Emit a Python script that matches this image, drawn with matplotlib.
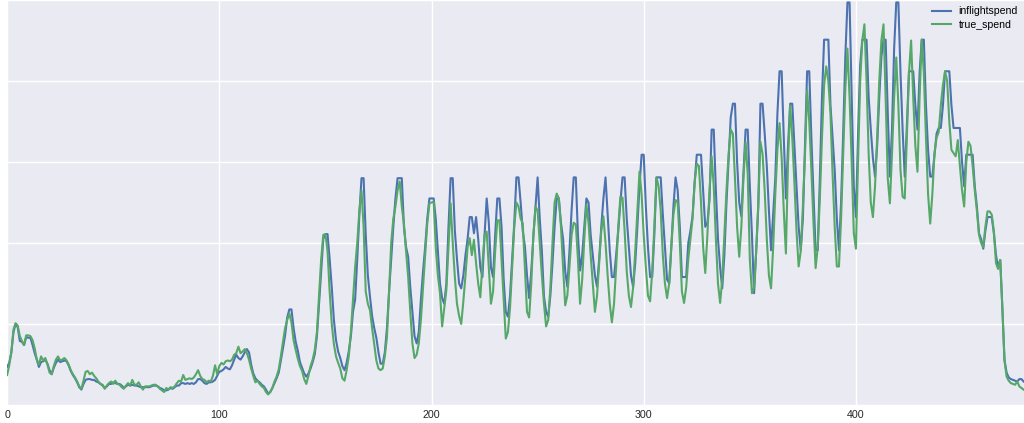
import matplotlib.pyplot as plt
import numpy as np

# values (one per step, 480 steps)
inflightspend = [
    4.7, 5.2, 6.5, 9.0, 10.0, 9.6, 7.9, 7.8, 7.4, 8.4,
    8.3, 8.3, 7.4, 6.4, 5.6, 4.7, 5.3, 5.4, 5.6, 5.1,
    4.3, 3.8, 4.6, 5.2, 5.6, 5.3, 5.4, 5.5, 5.4, 4.9,
    4.2, 3.7, 3.3, 2.8, 2.2, 1.9, 2.6, 3.1, 3.2, 3.2,
    3.1, 3.1, 2.9, 2.8, 2.6, 2.4, 2.1, 2.3, 2.6, 2.6,
    2.8, 2.7, 2.6, 2.6, 2.4, 2.1, 2.3, 2.5, 2.4, 2.5,
    2.4, 2.4, 2.3, 2.2, 2.2, 2.2, 2.2, 2.2, 2.3, 2.4,
    2.4, 2.3, 2.1, 2.0, 1.8, 1.8, 1.9, 2.1, 2.0, 2.2,
    2.4, 2.4, 2.7, 2.7, 2.6, 2.7, 2.6, 2.7, 2.6, 2.8,
    3.2, 3.2, 3.0, 2.7, 2.6, 2.8, 2.8, 2.9, 3.1, 3.6,
    4.1, 4.2, 4.4, 4.7, 4.5, 4.4, 4.9, 5.6, 6.2, 5.8,
    5.6, 6.0, 6.5, 6.9, 6.5, 5.0, 3.9, 3.3, 3.0, 2.8,
    2.5, 2.3, 1.9, 1.4, 1.6, 2.1, 2.7, 3.3, 4.0, 5.5,
    7.0, 8.6, 10.8, 11.8, 11.8, 9.5, 7.8, 6.7, 5.3, 4.6,
    3.9, 3.5, 3.9, 4.5, 5.3, 6.3, 8.5, 12.5, 16.5, 20.5,
    21.1, 21.1, 18.0, 14.5, 10.5, 8.0, 6.6, 5.8, 4.8, 4.3,
    5.2, 6.6, 8.5, 11.5, 13.0, 18.0, 23.5, 28.0, 28.0, 21.0,
    16.0, 13.4, 11.0, 9.5, 8.3, 6.5, 5.1, 5.1, 6.5, 9.5,
    14.0, 18.0, 22.0, 25.5, 28.0, 28.0, 28.0, 22.0, 19.5, 18.3,
    14.5, 11.5, 8.5, 7.6, 9.0, 13.0, 16.5, 19.5, 23.0, 25.5,
    25.5, 25.5, 23.0, 19.0, 15.0, 13.2, 12.5, 15.0, 22.0, 28.0,
    28.0, 21.5, 18.0, 15.0, 14.4, 16.0, 18.5, 20.5, 23.2, 23.2,
    21.2, 23.2, 20.5, 17.0, 15.8, 21.0, 25.5, 22.5, 17.0, 15.8,
    21.0, 25.5, 25.5, 22.0, 15.5, 11.5, 10.9, 13.5, 18.0, 22.5,
    28.1, 28.1, 25.0, 21.5, 19.6, 16.0, 13.2, 16.5, 20.8, 24.5,
    28.1, 23.0, 19.0, 13.4, 11.5, 10.9, 13.5, 17.5, 22.0, 25.5,
    25.5, 22.5, 20.5, 16.5, 14.6, 19.0, 24.0, 28.1, 28.1, 21.0,
    16.6, 18.5, 22.0, 25.5, 25.0, 21.0, 18.5, 16.0, 14.6, 18.0,
    22.0, 25.5, 28.1, 23.5, 19.0, 15.8, 15.8, 18.5, 21.5, 25.0,
    28.1, 28.1, 23.0, 19.5, 16.0, 14.6, 17.5, 22.0, 27.0, 30.9,
    30.9, 24.5, 19.5, 15.8, 15.8, 21.0, 28.1, 28.1, 28.1, 23.5,
    19.5, 15.5, 15.0, 19.5, 24.5, 28.1, 26.5, 22.0, 15.8, 15.8,
    15.8, 20.0, 21.5, 23.3, 27.5, 30.9, 30.9, 30.9, 26.5, 22.0,
    22.5, 25.3, 34.0, 34.0, 26.5, 20.5, 17.0, 14.4, 18.5, 25.0,
    30.3, 35.5, 37.2, 37.2, 30.0, 25.0, 23.3, 28.6, 34.0, 34.0,
    27.0, 21.0, 13.8, 19.0, 24.5, 37.2, 37.2, 33.5, 29.5, 24.0,
    19.1, 23.5, 28.0, 36.0, 41.2, 41.2, 33.0, 25.5, 32.0, 37.2,
    37.2, 32.0, 27.0, 22.0, 19.1, 23.0, 32.0, 41.2, 41.2, 33.0,
    26.0, 19.1, 19.1, 28.0, 38.0, 45.1, 45.1, 45.1, 37.0, 33.0,
    29.0, 23.0, 19.1, 25.0, 33.6, 43.0, 49.7, 49.7, 38.0, 27.0,
    23.2, 33.5, 42.0, 45.1, 45.1, 45.1, 38.0, 34.0, 30.5, 28.2,
    32.0, 38.0, 43.0, 45.1, 45.1, 36.0, 28.2, 34.0, 44.0, 49.7,
    49.7, 41.0, 34.0, 28.2, 34.5, 41.2, 41.2, 41.2, 37.0, 34.0,
    41.0, 45.1, 45.1, 37.0, 31.5, 28.2, 28.2, 30.9, 33.5, 34.2,
    34.2, 37.0, 41.2, 41.2, 41.2, 37.0, 34.2, 34.2, 34.2, 34.2,
    30.0, 27.0, 30.9, 30.9, 30.9, 30.9, 27.0, 24.5, 21.2, 20.5,
    19.3, 21.5, 23.2, 23.2, 23.2, 21.2, 18.5, 17.0, 17.9, 12.0,
    5.6, 4.0, 3.4, 3.2, 3.1, 3.0, 2.9, 3.2, 3.2, 2.9,
]

true_spend = [
    3.7, 4.9, 6.5, 9.3, 10.1, 9.8, 8.5, 7.9, 7.4, 8.6,
    8.6, 8.5, 8.0, 7.0, 5.6, 5.0, 6.0, 5.5, 5.8, 5.0,
    4.0, 3.8, 4.8, 5.6, 6.0, 5.5, 5.6, 5.8, 5.5, 5.0,
    4.3, 3.8, 3.4, 2.9, 2.3, 2.0, 3.0, 4.1, 4.2, 3.8,
    4.0, 3.6, 3.3, 2.9, 2.6, 2.5, 2.0, 2.4, 2.7, 2.9,
    2.6, 3.0, 2.6, 2.5, 2.2, 2.0, 2.4, 2.7, 2.4, 3.1,
    2.5, 2.5, 2.8, 2.3, 1.9, 2.3, 2.3, 2.3, 2.4, 2.5,
    2.5, 2.3, 2.0, 1.8, 1.6, 2.1, 1.9, 2.2, 2.1, 2.3,
    2.7, 3.0, 2.9, 3.7, 3.1, 3.2, 3.3, 3.2, 3.4, 3.8,
    4.3, 3.6, 3.2, 3.1, 2.8, 3.0, 2.9, 3.6, 4.9, 3.8,
    4.8, 5.2, 5.0, 5.4, 5.5, 5.4, 5.6, 6.2, 6.4, 7.2,
    6.4, 6.6, 6.9, 6.4, 5.6, 4.5, 3.6, 2.8, 3.0, 2.6,
    2.3, 2.1, 1.6, 1.3, 1.6, 2.1, 2.9, 3.5, 4.4, 6.0,
    7.8, 9.5, 10.5, 11.3, 10.2, 8.0, 6.8, 5.7, 4.8, 4.2,
    3.2, 2.6, 3.6, 4.8, 5.6, 6.8, 9.0, 13.5, 18.0, 21.0,
    21.1, 19.0, 14.0, 10.0, 7.5, 6.0, 5.2, 4.5, 3.3, 3.0,
    4.3, 6.0, 9.0, 13.0, 17.0, 20.0, 24.0, 26.5, 22.0, 14.0,
    12.5, 11.7, 9.5, 7.5, 5.5, 4.5, 4.3, 4.5, 6.0, 8.4,
    14.0, 20.0, 23.0, 24.5, 26.5, 27.6, 24.5, 22.4, 19.0, 15.8,
    11.5, 7.6, 5.8, 6.2, 7.6, 10.5, 14.6, 18.5, 22.4, 24.9,
    25.0, 25.1, 19.5, 16.0, 13.8, 9.7, 12.0, 14.2, 19.5, 24.9,
    20.0, 15.8, 12.5, 11.0, 10.0, 12.8, 16.0, 19.5, 20.6, 18.5,
    20.4, 17.5, 15.0, 13.3, 17.5, 21.0, 21.4, 17.0, 12.5, 14.0,
    19.0, 22.8, 22.8, 18.0, 13.0, 8.2, 9.0, 12.0, 17.0, 22.0,
    25.0, 24.5, 23.0, 22.4, 17.0, 11.5, 10.8, 15.0, 21.0, 24.5,
    24.0, 20.0, 16.0, 12.5, 9.7, 10.5, 14.5, 20.0, 25.0, 26.1,
    25.5, 22.0, 17.0, 12.3, 13.5, 17.0, 21.0, 22.5, 22.3, 18.0,
    12.5, 15.5, 20.5, 24.7, 22.5, 18.5, 15.0, 11.5, 13.5, 17.5,
    21.5, 23.3, 20.0, 16.0, 12.5, 10.2, 12.5, 17.0, 22.0, 25.7,
    25.6, 21.5, 16.5, 13.5, 12.1, 14.5, 19.0, 24.0, 28.8, 26.0,
    21.0, 17.0, 13.5, 12.8, 16.5, 22.0, 28.1, 27.0, 24.0, 18.5,
    15.0, 13.2, 15.0, 19.5, 23.5, 25.3, 25.0, 20.0, 14.0, 12.6,
    14.5, 18.0, 20.5, 23.0, 27.5, 29.8, 29.5, 25.0, 19.5, 16.3,
    21.0, 26.5, 30.7, 27.0, 20.5, 15.0, 12.6, 15.5, 21.0, 26.5,
    31.0, 34.0, 33.5, 28.0, 22.0, 18.3, 22.0, 28.0, 32.5, 28.5,
    18.0, 13.8, 14.5, 19.0, 25.0, 32.5, 31.0, 26.5, 20.5, 16.0,
    14.4, 19.5, 26.0, 31.5, 34.8, 30.5, 24.0, 18.7, 30.0, 37.0,
    33.0, 27.5, 21.5, 17.1, 19.0, 24.5, 31.0, 38.9, 35.0, 29.0,
    22.5, 16.9, 19.5, 25.5, 33.0, 39.5, 41.8, 40.0, 36.0, 28.5,
    22.0, 17.1, 17.1, 23.0, 31.0, 39.0, 44.0, 38.0, 30.0, 21.2,
    19.3, 30.0, 40.0, 45.0, 47.0, 40.0, 31.0, 25.0, 23.2, 27.0,
    33.0, 40.0, 45.0, 47.0, 38.0, 28.0, 24.9, 31.0, 38.0, 42.9,
    37.0, 29.0, 25.7, 25.5, 33.0, 41.0, 45.0, 38.0, 32.0, 28.8,
    38.0, 45.1, 41.0, 33.0, 26.0, 22.4, 26.0, 31.0, 33.0, 33.7,
    37.0, 39.5, 41.2, 40.0, 35.0, 31.5, 31.1, 30.7, 32.7, 29.5,
    26.5, 24.5, 30.0, 32.5, 32.0, 29.5, 26.5, 24.0, 21.0, 20.0,
    19.5, 22.0, 23.9, 23.9, 23.5, 21.5, 17.5, 16.8, 17.9, 12.0,
    5.5, 3.5, 3.0, 2.7, 2.6, 2.5, 2.9, 2.3, 2.1, 1.9,
]

xticks = [0, 100, 200, 300, 400]

plt.rcParams['font.family'] = ['Liberation Sans', 'DejaVu Sans']

fig = plt.figure(figsize=(10.24, 4.23), dpi=100)
ax = fig.add_axes([7.1 / 1024, 18 / 423, 1 - 7.1 / 1024, 405 / 423])
ax.set_facecolor('#EAEAF2')
for s in ax.spines.values():
    s.set_visible(False)

x = np.arange(len(inflightspend))
ax.plot(x, inflightspend, color='#4C72B0', linewidth=1.5, label='inflightspend')
ax.plot(x, true_spend, color='#55A868', linewidth=1.5, label='true_spend')

ax.set_xlim(0, 479.2)
ax.set_ylim(0, 50)
ax.set_xticks(xticks)
ax.set_yticks([0, 10, 20, 30, 40, 50])
ax.set_yticklabels([])
ax.grid(True, color='white', linewidth=1.0)
ax.set_axisbelow(True)
ax.tick_params(length=0, labelsize=7.7, pad=3.5, colors='#262626')

ax.legend(loc='upper right', frameon=False, fontsize=7.6,
          handlelength=1.8, handletextpad=0.7, labelspacing=0.35,
          borderaxespad=0.2)

plt.savefig('out.png', dpi=100)
